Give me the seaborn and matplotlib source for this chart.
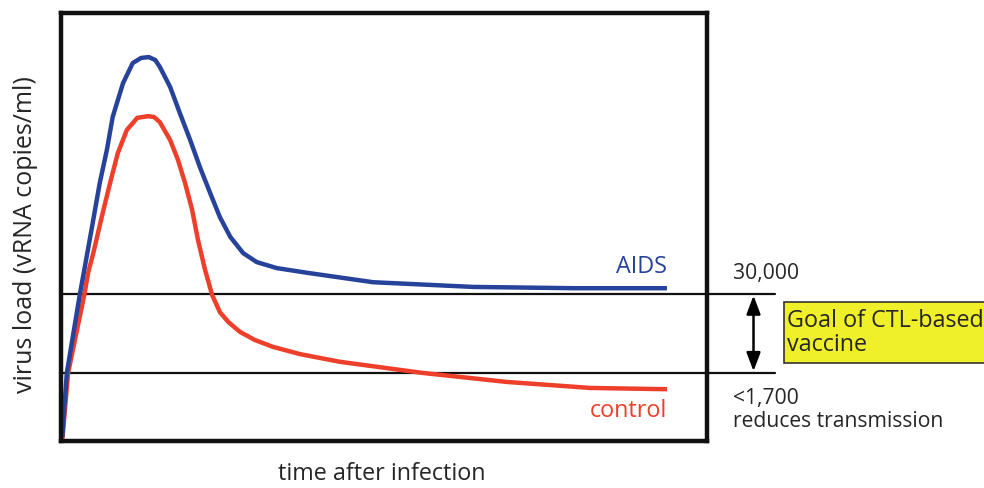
import numpy as np
import pandas as pd
import matplotlib
matplotlib.use("Agg")
import matplotlib.pyplot as plt
import seaborn as sns

# values (x = time, y = virus load, both on a 0-100 scale)
aids_time = [0.2, 0.9, 2.9, 4.8, 6.0, 7.1, 8.0, 9.6, 11.1, 12.4, 13.6, 14.6, 15.3,
             16.9, 18.4, 20.0, 21.5, 23.1, 24.6, 26.2, 28.2, 30.3, 33.4, 38.1, 48.3,
             63.8, 79.3, 93.8]
aids_load = [0.9, 15.9, 34.1, 50.0, 60.3, 68.0, 75.7, 83.6, 88.3, 89.5, 89.7, 89.0, 87.4,
             82.7, 76.6, 70.3, 64.0, 57.9, 52.3, 47.7, 43.9, 41.8, 40.4, 39.3, 37.1,
             36.0, 35.7, 35.7]

control_time = [0.2, 1.1, 3.6, 4.2, 5.0, 6.3, 7.6, 8.8, 10.2, 11.8, 13.5, 14.4, 15.3, 16.9,
                18.1, 19.2, 20.3, 21.2, 22.3, 23.4, 24.6, 25.9, 27.7, 30.0, 32.8, 37.0,
                43.2, 56.0, 69.0, 81.9, 93.8]
control_load = [0.2, 15.9, 34.1, 39.3, 43.9, 52.3, 60.3, 67.3, 72.7, 75.5, 75.9, 75.7, 74.5, 70.3,
                65.7, 60.3, 54.0, 47.0, 40.0, 34.1, 30.1, 27.8, 25.5, 23.6, 22.0, 20.3,
                18.5, 15.9, 13.8, 12.4, 12.1]

threshold_levels = [34.3, 16.0]
threshold_labels = ["30,000", "<1,700\nreduces transmission"]

aids_color = "#27429a"
control_color = "#ee3f2a"

df = pd.concat([
    pd.DataFrame({"time": aids_time, "load": aids_load, "group": "AIDS"}),
    pd.DataFrame({"time": control_time, "load": control_load, "group": "control"}),
])

sns.set_style("white")
plt.rcParams["font.family"] = ["Open Sans", "DejaVu Sans"]

fig = plt.figure(figsize=(9.84, 4.88), dpi=100)
W, H = 984, 488
ax = fig.add_axes([61 / W, 1 - 441 / H, (707 - 61) / W, (441 - 13) / H])

sns.lineplot(data=df, x="time", y="load", hue="group", sort=False,
             palette={"AIDS": aids_color, "control": control_color},
             hue_order=["control", "AIDS"], linewidth=3.2, legend=False, ax=ax,
             solid_joinstyle="round", solid_capstyle="butt")

ax.set_xlim(0, 100)
ax.set_ylim(0, 100)
ax.set_xticks([])
ax.set_yticks([])
ax.set_xlabel("")
ax.set_ylabel("")
for s in ax.spines.values():
    s.set_linewidth(3.2)
    s.set_color("#111111")

# threshold lines run past the frame
for lvl in threshold_levels:
    ax.plot([0, 110.5], [lvl, lvl], color="#111111", lw=1.6, clip_on=False, zorder=1)

# double arrow between thresholds
ax.annotate("", xy=(107.2, threshold_levels[0] - 0.3), xytext=(107.2, threshold_levels[1] + 0.3),
            arrowprops=dict(arrowstyle="<|-|>,head_width=0.3,head_length=0.8", color="black",
                            lw=1.8, mutation_scale=14, shrinkA=0, shrinkB=0),
            annotation_clip=False)

fs = 16.8
fig.text(667 / W, 1 - 267 / H, "AIDS", color=aids_color, fontsize=fs, ha="right", va="center")
fig.text(667 / W, 1 - 411 / H, "control", color=control_color, fontsize=fs, ha="right",
         va="center")
fig.text(733 / W, 1 - 273 / H, threshold_labels[0], fontsize=15.2, ha="left", va="center")
fig.text(733 / W, 1 - 410 / H, threshold_labels[1], fontsize=15.2, ha="left", va="center",
         linespacing=1.15)

fig.patches.append(plt.Rectangle((784 / W, 1 - 363 / H), 210 / W, 61 / H,
                                 transform=fig.transFigure, facecolor="#f0f02a",
                                 edgecolor="#333333", lw=1.2))
fig.text(787 / W, 1 - 333 / H, "Goal of CTL-based\nvaccine", fontsize=fs, ha="left",
         va="center", linespacing=1.0)

fig.text(26 / W, 1 - 235 / H, "virus load (vRNA copies/ml)", fontsize=18, rotation=90,
         ha="center", va="center")
fig.text(382 / W, 1 - 474 / H, "time after infection", fontsize=fs, ha="center", va="center")

fig.savefig("out.png", dpi=100, facecolor="white")
